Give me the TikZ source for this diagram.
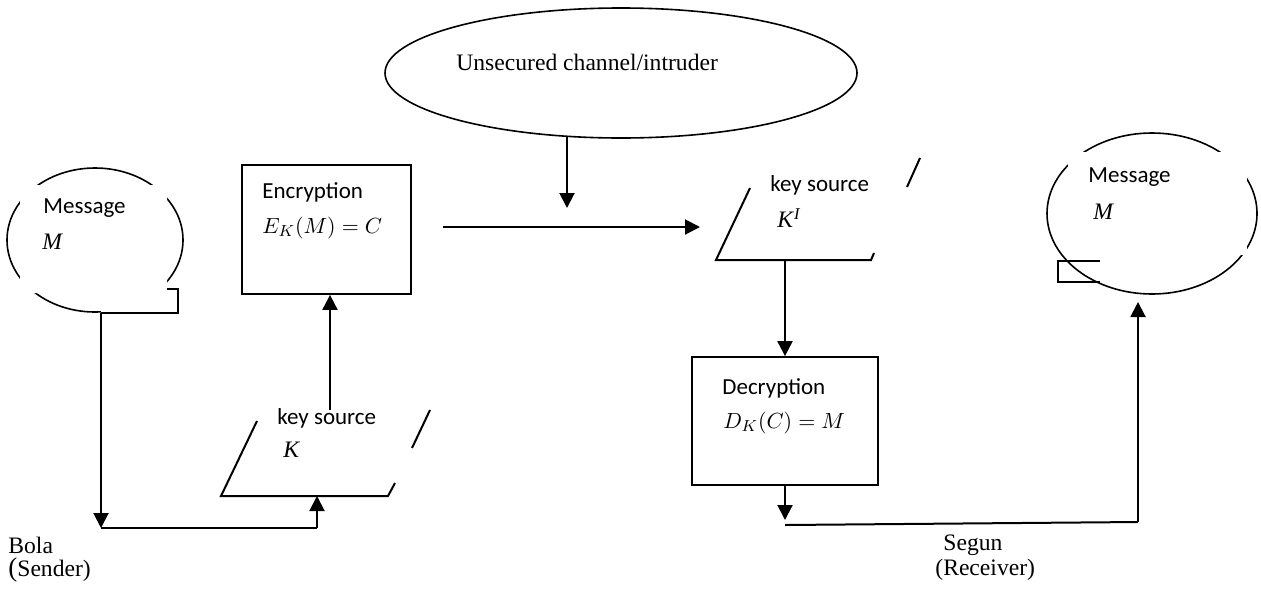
\documentclass[tikz,border=0pt]{standalone}
\usepackage{fontspec}
\setmainfont{Liberation Serif}
\newfontfamily\calfont{Carlito}
\usetikzlibrary{shapes.geometric,arrows.meta}
\begin{document}
\begin{tikzpicture}[x=0.5pt,y=-0.5pt,
  line/.style={line width=1pt},
  arr/.style={line width=1pt,-{Triangle[length=7.5pt,width=7.5pt]}},
  oval/.style={draw,ellipse,line width=0.8pt,inner sep=0pt},
  box/.style={draw,rectangle,line width=0.9pt,inner sep=0pt},
  cover/.style={fill=white,draw=none},
  lab/.style={font=\calfont\fontsize{11.5}{13}\selectfont,anchor=west,inner sep=0pt},
  tlab/.style={font=\fontsize{11.8}{13}\selectfont,anchor=west,inner sep=0pt},
  mlab/.style={font=\fontsize{11}{13}\selectfont,anchor=west,inner sep=0pt}]
\useasboundingbox (0,0) rectangle (1261,595);
% left message
\node[oval,minimum width=88pt,minimum height=72pt] (msgL) at (95,240) {};
\fill[cover] (20,185) -- (167,185) -- (167,289) -- (178,289) -- (178,313) -- (101,313) -- (101,293) -- (20,293) -- cycle;
\draw[line width=0.8pt] (167,289) -- (178,289) -- (178,313) -- (101,313);
\node[lab] (msgLt) at (43,208) {Message};
\node[tlab] (msgLm) at (42,242) {\textit{M}};
% channel
\node[oval,minimum width=236pt,minimum height=65pt] (chan) at (621,73) {};
\node[tlab] (chant) at (456,62) {Unsecured channel/intruder};
% encryption
\node[box,minimum width=84.5pt,minimum height=64.5pt] (enc) at (326.5,229.5) {};
\node[lab] (enct) at (262,192) {Encryption};
\node[mlab] (encm) at (262,228) {$E_K(M)=C$};
% key source K
\coordinate (kbl) at (221,496);
\coordinate (kbr) at (388,496);
\draw[line] (257,421) -- (kbl) -- (kbr) -- (395,483);
\draw[line] (412,448) -- (430,410);
\node[lab] (kt) at (277,418) {key source};
\node[tlab] (km) at (283,450) {\textit{K}};
% key source K'
\coordinate (kibl) at (716,260);
\coordinate (kibr) at (871,260);
\draw[line] (750,188) -- (kibl) -- (kibr) -- (874,253);
\draw[line] (907,187) -- (920,158);
\node[lab] (kit) at (770,185) {key source};
\node[tlab] (kim) at (777,218) {\textit{K}\textsuperscript{\textit{I}}};
% decryption
\node[box,minimum width=93pt,minimum height=64pt] (dec) at (785,421) {};
\node[lab] (dect) at (722,388) {Decryption};
\node[mlab] (decm) at (723,423) {$D_K(C)=M$};
% right message
\node[oval,minimum width=105pt,minimum height=80.5pt] (msgR) at (1152,213.5) {};
\fill[cover] (1068,152) rectangle (1247,255);
\draw[line width=0.8pt] (1100,261) -- (1058,261) -- (1058,282) -- (1100,282);
\node[lab] (msgRt) at (1088,177) {Message};
\node[tlab] (msgRm) at (1093,212) {\textit{M}};
% labels
\node[tlab] (bola) at (8,545) {Bola};
\node[tlab] (sender) at (8,570) {{\fontsize{13.5}{13}\selectfont(}Sender)};
\node[tlab] (segun) at (943,545) {Segun};
\node[tlab] (recv) at (935,570) {(Receiver)};
% connectors
\coordinate (c1) at (101,528);
\coordinate (c2) at (317,528);
\coordinate (c0) at (101,313);
\draw[arr] (c0) -- (c1);
\draw[line] (c1) -- (c2);
\draw[arr] (c2) -- (317,496);
\coordinate (kTop) at (330,410);
\draw[arr] (kTop) -- (kTop |- enc.south);
\coordinate (chanB) at (567,137);
\coordinate (chanT) at (567,208);
\draw[arr] (chanB) -- (chanT);
\coordinate (encOut) at (443,227);
\coordinate (kiIn) at (700,227);
\draw[arr] (encOut) -- (kiIn);
\coordinate (kiB) at (785,260);
\draw[arr] (kiB) -- (dec.north);
\coordinate (d1) at (785,520);
\draw[arr] (dec.south) -- (d1);
\coordinate (d2) at (785,525);
\coordinate (d3) at (1138,522);
\draw[line] (d2) -- (d3);
\coordinate (rT) at (1138,302);
\draw[arr] (d3) -- (rT);
\end{tikzpicture}
\end{document}
